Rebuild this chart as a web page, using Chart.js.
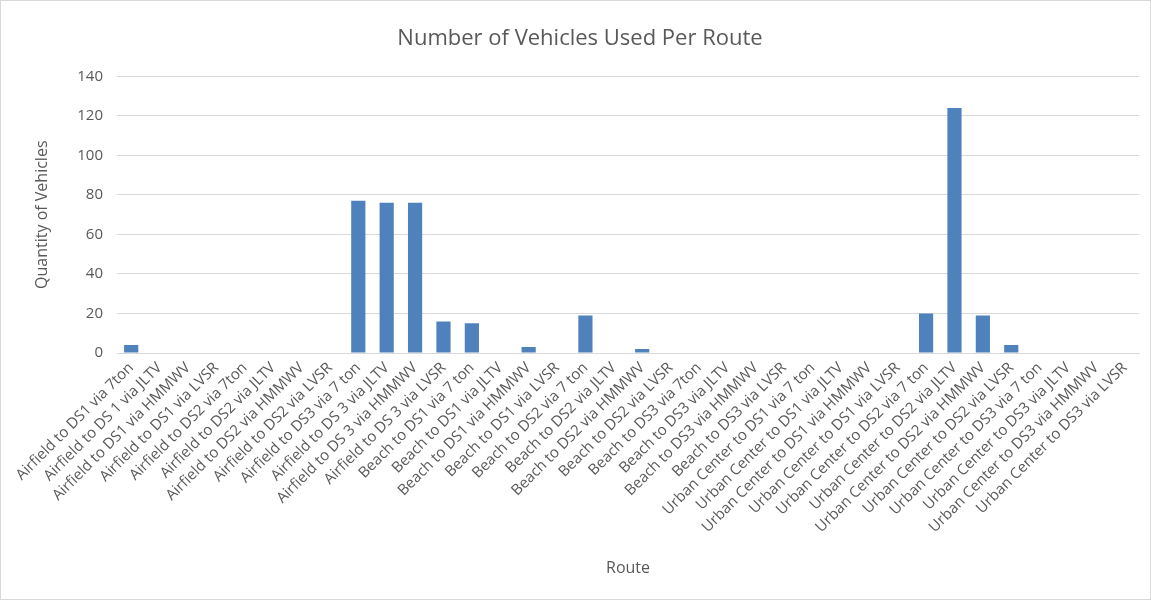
<!DOCTYPE html>
<html>
<head>
<meta charset="utf-8">
<script src="https://cdn.jsdelivr.net/npm/chart.js@4.4.0/dist/chart.umd.min.js"></script>
<style>
  html, body { margin: 0; padding: 0; background: #fff; }
  #wrap { position: absolute; left: 0; top: 0; width: 1149px; height: 598px; border: 1px solid #d9d9d9; }
</style>
</head>
<body>
<div id="wrap"><canvas id="routeChart"></canvas></div>
<script>
const routes = [
  'Airfield to DS1 via 7ton', 'Airfield to DS 1 via JLTV', 'Airfield to DS1 via HMMWV', 'Airfield to DS1 via LVSR',
  'Airfield to DS2 via 7ton', 'Airfield to DS2 via JLTV', 'Airfield to DS2 via HMMWV', 'Airfield to DS2 via LVSR',
  'Airfield to DS3 via 7 ton', 'Airfield to DS 3 via JLTV', 'Airfield to DS 3 via HMMWV', 'Airfield to DS 3 via LVSR',
  'Beach to DS1 via 7 ton', 'Beach to DS1 via JLTV', 'Beach to DS1 via HMMWV', 'Beach to DS1 via LVSR',
  'Beach to DS2 via 7 ton', 'Beach to DS2 via JLTV', 'Beach to DS2 via HMMWV', 'Beach to DS2 via LVSR',
  'Beach to DS3 via 7ton', 'Beach to DS3 via JLTV', 'Beach to DS3 via HMMWV', 'Beach to DS3 via LVSR',
  'Urban Center to DS1 via 7 ton', 'Urban Center to DS1 via JLTV', 'Urban Center to DS1 via HMMWV', 'Urban Center to DS1 via LVSR',
  'Urban Center to DS2 via 7 ton', 'Urban Center to DS2 via JLTV', 'Urban Center to DS2 via HMMWV', 'Urban Center to DS2 via LVSR',
  'Urban Center to DS3 via 7 ton', 'Urban Center to DS3 via JLTV', 'Urban Center to DS3 via HMMWV', 'Urban Center to DS3 via LVSR'
];

const vehicles = [
  4, 0, 0, 0,
  0, 0, 0, 0,
  77, 76, 76, 16,
  15, 0, 3, 0,
  19, 0, 2, 0,
  0, 0, 0, 0,
  0, 0, 0, 0,
  20, 124, 19, 4,
  0, 0, 0, 0
];

const yTicks = [0, 20, 40, 60, 80, 100, 120, 140];

const textGrey = '#595959';
const fontName = '"Open Sans", "Liberation Sans", sans-serif';

const ctx = document.getElementById('routeChart').getContext('2d');
const routeChart = new Chart(ctx, {
  type: 'bar',
  data: {
    labels: routes,
    datasets: [{
      label: 'Quantity of Vehicles',
      data: vehicles,
      backgroundColor: '#4f81bd',
      borderWidth: 0,
      barPercentage: 0.5,
      categoryPercentage: 1.0
    }]
  },
  options: {
    responsive: true,
    maintainAspectRatio: false,
    animation: false,
    layout: { padding: { left: 20, right: 11, top: 10, bottom: 10 } },
    plugins: {
      legend: { display: false },
      tooltip: { enabled: false },
      title: {
        display: true,
        text: 'Number of Vehicles Used Per Route',
        color: textGrey,
        font: { family: fontName, size: 22, weight: 'normal' },
        padding: { top: 15, bottom: 24 }
      }
    },
    scales: {
      x: {
        afterFit: (scale) => { scale.height = 236; },
        grid: { display: false, drawTicks: false },
        border: { color: '#d9d9d9', width: 1 },
        ticks: {
          color: textGrey,
          font: { family: fontName, size: 15 },
          maxRotation: 45,
          minRotation: 45,
          autoSkip: false,
          padding: 6
        },
        title: {
          display: true,
          text: 'Route',
          color: textGrey,
          font: { family: fontName, size: 16 },
          padding: { top: 4, bottom: 11 }
        }
      },
      y: {
        min: 0,
        max: 140,
        afterFit: (scale) => { scale.width = 96; },
        afterBuildTicks: (axis) => { axis.ticks = yTicks.map(v => ({ value: v })); },
        grid: { color: '#d9d9d9', lineWidth: 1, drawTicks: false },
        border: { display: false },
        ticks: {
          color: textGrey,
          font: { family: fontName, size: 15 },
          padding: 14
        },
        title: {
          display: true,
          text: 'Quantity of Vehicles',
          color: textGrey,
          font: { family: fontName, size: 16 },
          padding: { top: 12, bottom: 4 }
        }
      }
    }
  }
});
</script>
</body>
</html>
